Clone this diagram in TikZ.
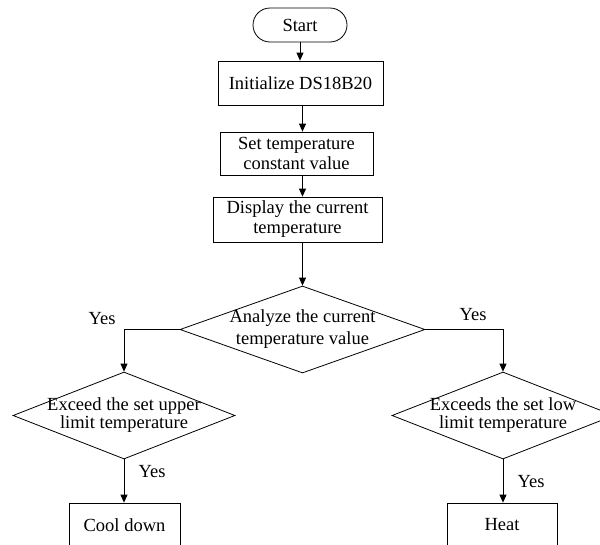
\documentclass[tikz,border=0pt]{standalone}
\usepackage{fontspec}
\setmainfont{Liberation Serif}
\usetikzlibrary{shapes.geometric,arrows.meta}
\newcommand\figfont{\fontsize{18.5}{20}\selectfont}
\newcommand\figfonttight{\fontsize{18.5}{18}\selectfont}
\newcommand\figfontmid{\fontsize{18.5}{22}\selectfont}
\tikzset{
  base/.style={draw=black, line width=0.8pt, inner sep=0pt, font=\figfont, align=center},
  term/.style={base, rounded corners=17pt, minimum width=94pt, minimum height=34pt},
  proc/.style={base},
  dia/.style={draw=black, line width=0.8pt, diamond, inner sep=0pt},
  arr/.style={draw=black, line width=0.8pt, -{Triangle[length=8pt,width=7pt]}},
  lbl/.style={font=\figfont, inner sep=0pt}
}
\begin{document}
\begin{tikzpicture}[x=1pt,y=-1pt]
\useasboundingbox (0,0) rectangle (600,544);
\node[term] (start) at (300,25) {Start};
\node[proc, minimum width=165pt, minimum height=44pt] (b1) at (300.5,83) {Initialize DS18B20};
\node[proc, minimum width=153pt, minimum height=43pt] (b2) at (296.5,153.5) {Set temperature\\constant value};
\node[proc, minimum width=169pt, minimum height=45pt] (b3) at (297.5,219.5) {Display the current\\temperature};
\node[dia, minimum width=245pt, minimum height=87pt,
      label={[font=\figfontmid, align=center, inner sep=0pt]center:Analyze the current\\temperature value}] (d0) at (302.5,329.5) {};
\node[dia, minimum width=222pt, minimum height=87pt,
      label={[font=\figfonttight, align=center, inner sep=0pt]center:Exceed the set upper\\limit temperature}] (d1) at (124,415.5) {};
\node[dia, minimum width=222pt, minimum height=87pt,
      label={[font=\figfonttight, align=center, inner sep=0pt]center:Exceeds the set low\\limit temperature}] (d2) at (503,415.5) {};
\node[proc, minimum width=111pt, minimum height=44pt] (cool) at (124.5,525) {Cool down};
\node[proc, minimum width=110pt, minimum height=44pt] (heat) at (502,525) {Heat};

\draw[arr] (start.south) -- (start.south |- b1.north);
\draw[arr] (b1.south -| d0.north) -- (b2.north -| d0.north);
\draw[arr] (b2.south -| d0.north) -- (b3.north -| d0.north);
\draw[arr] (b3.south -| d0.north) -- (d0.north);
\draw[arr] (d0.west) -| (d1.north);
\draw[arr] (d0.east) -| (d2.north);
\draw[arr] (d1.south) -- (d1.south |- cool.north);
\draw[arr] (d2.south) -- (d2.south |- heat.north);

\node[lbl] (y1) at (102,319) {Yes};
\node[lbl] (y2) at (473,315) {Yes};
\node[lbl] (y3) at (152,472) {Yes};
\node[lbl] (y4) at (531,482) {Yes};
\end{tikzpicture}
\end{document}
